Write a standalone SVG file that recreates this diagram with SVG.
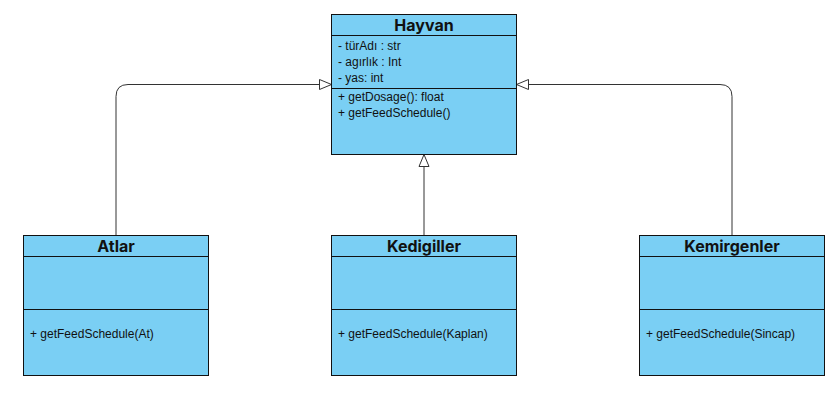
<svg xmlns="http://www.w3.org/2000/svg" width="836" height="402" viewBox="0 0 836 402">
<style>
.box{fill:#7acff4;stroke:#111;stroke-width:1}
.div{stroke:#111;stroke-width:1}
.title{font-family:Inter,"Liberation Sans",sans-serif;font-weight:700;font-size:16px;fill:#111;text-anchor:middle}
.t{font-family:"Liberation Sans",Arial,sans-serif;font-size:12px;fill:#111}
.edge{fill:none;stroke:#333;stroke-width:1}
</style>
<defs>
<marker id="tri" markerWidth="14" markerHeight="12" refX="13" refY="6" orient="auto" markerUnits="userSpaceOnUse">
<path d="M1,1 L13,6 L1,11 Z" fill="#fff" stroke="#333" stroke-width="1"/>
</marker>
</defs>
<rect width="836" height="402" fill="#fff"/>
<g id="connectors">
<path class="edge" d="M116,235 V96.5 Q116,84.5 128,84.5 H331.5" marker-end="url(#tri)"/>
<path class="edge" d="M424,235 V154.5" marker-end="url(#tri)"/>
<path class="edge" d="M732,235 V96.5 Q732,84.5 720,84.5 H516.5" marker-end="url(#tri)"/>
</g>
<g id="Hayvan">
<rect class="box" x="331.5" y="14.5" width="185" height="140"/>
<line class="div" x1="331.5" y1="35.5" x2="516.5" y2="35.5"/>
<line class="div" x1="331.5" y1="88.5" x2="516.5" y2="88.5"/>
<text class="title" x="424" y="30.5">Hayvan</text>
<text class="t" x="338" y="50">- türAdı : str</text>
<text class="t" x="338" y="66">- agırlık : Int</text>
<text class="t" x="338" y="82">- yas: int</text>
<text class="t" x="338" y="101">+ getDosage(): float</text>
<text class="t" x="338" y="117">+ getFeedSchedule()</text>
</g>
<g id="Atlar">
<rect class="box" x="23.5" y="235.5" width="185" height="140"/>
<line class="div" x1="23.5" y1="256.5" x2="208.5" y2="256.5"/>
<line class="div" x1="23.5" y1="309.5" x2="208.5" y2="309.5"/>
<text class="title" x="116" y="251.5">Atlar</text>
<text class="t" x="30" y="338">+ getFeedSchedule(At)</text>
</g>
<g id="Kedigiller">
<rect class="box" x="331.5" y="235.5" width="185" height="140"/>
<line class="div" x1="331.5" y1="256.5" x2="516.5" y2="256.5"/>
<line class="div" x1="331.5" y1="309.5" x2="516.5" y2="309.5"/>
<text class="title" x="424" y="251.5">Kedigiller</text>
<text class="t" x="338" y="338">+ getFeedSchedule(Kaplan)</text>
</g>
<g id="Kemirgenler">
<rect class="box" x="639.5" y="235.5" width="185" height="140"/>
<line class="div" x1="639.5" y1="256.5" x2="824.5" y2="256.5"/>
<line class="div" x1="639.5" y1="309.5" x2="824.5" y2="309.5"/>
<text class="title" x="732" y="251.5">Kemirgenler</text>
<text class="t" x="646" y="338">+ getFeedSchedule(Sincap)</text>
</g>
</svg>
